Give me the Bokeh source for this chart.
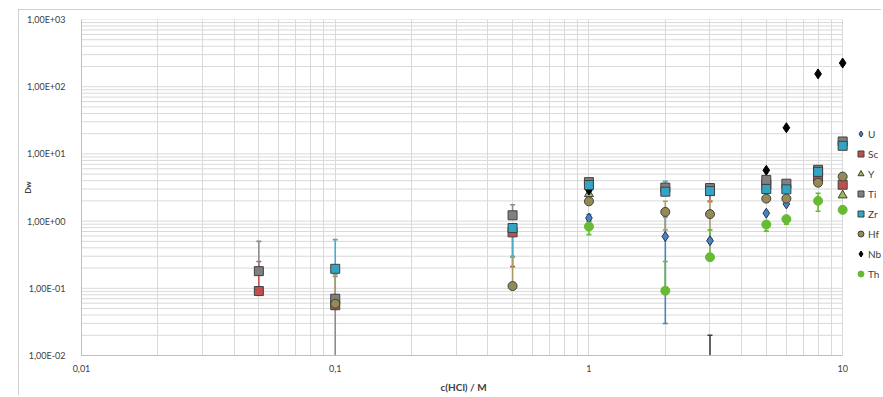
import math
import numpy as np
from bokeh.plotting import figure
from bokeh.models import (Range1d, FixedTicker, CustomJSTickFormatter, Legend,
                          LegendItem, Title)
from bokeh.embed import file_html
from bokeh.resources import INLINE

nan = float("nan")

# ---------------- data ----------------
c_hcl = [0.05, 0.1, 0.5, 1, 2, 3, 5, 6, 8, 10]

U_val  = [nan, nan, nan, 1.11, 0.59, 0.51, 1.31, 1.80, nan, nan]
U_lo   = [nan, nan, nan, 1.00, 0.030, nan, nan, nan, nan, nan]
U_hi   = [nan, nan, nan, 1.25, 1.15, nan, nan, nan, nan, nan]

Sc_val = [0.091, 0.056, 0.68, nan, nan, 2.8, 3.5, nan, 4.47, 3.48]
Sc_lo  = [nan, nan, 0.21, nan, nan, 1.95, nan, nan, nan, nan]
Sc_hi  = [0.25, nan, nan, nan, nan, 3.6, nan, nan, nan, nan]

Y_val  = [nan, nan, nan, 2.53, nan, nan, nan, nan, nan, 2.42]
Y_lo   = [nan] * 10
Y_hi   = [nan] * 10

Ti_val = [0.18, 0.07, 1.22, 3.8, 3.15, 3.1, 4.1, 3.6, 5.8, 15.3]
Ti_lo  = [nan, 0.001, nan, nan, nan, nan, nan, nan, nan, nan]
Ti_hi  = [0.5, 0.15, 1.75, nan, nan, nan, nan, nan, nan, nan]

Zr_val = [nan, 0.195, 0.79, 3.44, 2.74, 2.8, 3.0, 2.97, 5.4, 13.2]
Zr_lo  = [nan, nan, 0.30, nan, nan, nan, nan, nan, nan, nan]
Zr_hi  = [nan, 0.53, nan, nan, 3.9, nan, nan, nan, nan, nan]

Hf_val = [nan, 0.059, 0.108, 1.97, 1.37, 1.27, 2.16, 2.16, 3.73, 4.6]
Hf_lo  = [nan, nan, nan, nan, 0.74, 0.55, nan, nan, nan, nan]
Hf_hi  = [nan, 0.16, 0.29, nan, 1.97, 2.0, nan, nan, nan, nan]

Nb_val = [nan, nan, nan, 2.9, nan, 0.005, 5.7, 24.5, 155, 225]
Nb_lo  = [nan] * 10
Nb_hi  = [nan, nan, nan, nan, nan, 0.02, nan, nan, nan, nan]

Th_val = [nan, nan, nan, 0.83, 0.092, 0.29, 0.89, 1.07, 2.0, 1.47]
Th_lo  = [nan, nan, nan, 0.63, nan, nan, 0.71, 0.90, 1.4, nan]
Th_hi  = [nan, nan, nan, nan, 0.25, 0.74, nan, nan, 2.6, nan]

series_names = ["U", "Sc", "Y", "Ti", "Zr", "Hf", "Nb", "Th"]
draw_order = ["U", "Sc", "Y", "Nb", "Ti", "Zr", "Hf", "Th"]

X_MIN, X_MAX = 0.01, 10
Y_MIN, Y_MAX = 0.01, 1000

# ---------------- styles ----------------
styles = {
    "U":  dict(marker="diamond", size=10, fill="#4F81BD", line="#1F3864", err="#4F81BD", vals=(U_val, U_lo, U_hi)),
    "Sc": dict(marker="square", size=9, fill="#C0504D", line="#404040", err="#C0504D", vals=(Sc_val, Sc_lo, Sc_hi)),
    "Y":  dict(marker="triangle", size=9, fill="#9BBB59", line="#404040", err="#9BBB59", vals=(Y_val, Y_lo, Y_hi)),
    "Ti": dict(marker="square", size=9, fill="#808080", line="#404040", err="#8C8C8C", vals=(Ti_val, Ti_lo, Ti_hi)),
    "Zr": dict(marker="square", size=9, fill="#31A6C4", line="#404040", err="#4BACC6", vals=(Zr_val, Zr_lo, Zr_hi)),
    "Hf": dict(marker="circle", size=9, fill="#948A54", line="#404040", err="#A89C66", vals=(Hf_val, Hf_lo, Hf_hi)),
    "Nb": dict(marker="diamond", size=10, fill="#000000", line="#000000", err="#404040", vals=(Nb_val, Nb_lo, Nb_hi)),
    "Th": dict(marker="circle", size=9, fill="#66BB33", line="#66BB33", err="#66BB33", vals=(Th_val, Th_lo, Th_hi)),
}

FONT = "Lato"
TEXT = "#404040"

# The frame is widened up to the page edge so that the legend (drawn inside the frame)
# shows at the right; grid lines and the x axis stop at X_MAX.
p = figure(width=863, height=386, x_axis_type="log", y_axis_type="log",
           x_range=Range1d(X_MIN, 10 ** 1.157), y_range=Range1d(Y_MIN, Y_MAX),
           output_backend="svg", toolbar_location=None,
           min_border_left=59, min_border_right=0, min_border_top=9, min_border_bottom=39)
p.margin = (9, 0, 0, 18)
p.styles = {"border-left": "1px solid #d0d0d0", "border-top": "1px solid #d0d0d0"}
p.outline_line_color = None
p.background_fill_color = "white"
p.border_fill_color = "white"

# ticks
x_major = [10.0 ** k for k in range(-2, 2)]
x_minor = [m * 10.0 ** k for k in range(-2, 1) for m in range(2, 10)]
y_major = [10.0 ** k for k in range(-2, 4)]
y_minor = [m * 10.0 ** k for k in range(-2, 3) for m in range(2, 10)]

xt = FixedTicker(ticks=x_major, minor_ticks=x_minor)
yt = FixedTicker(ticks=y_major, minor_ticks=y_minor)
p.xaxis.ticker = xt
p.yaxis.ticker = yt
p.xgrid.ticker = xt

GRID = "#d9d9d9"
p.xgrid.grid_line_color = GRID
p.xgrid.minor_grid_line_color = GRID
p.ygrid.visible = False
# horizontal grid lines limited to the axis span
ys = y_major + y_minor
p.segment(x0=[X_MIN] * len(ys), x1=[X_MAX] * len(ys), y0=ys, y1=ys,
          line_color=GRID, line_width=1, level="underlay")

p.xaxis.formatter = CustomJSTickFormatter(code="return tick.toString().replace('.', ',');")
p.yaxis.formatter = CustomJSTickFormatter(code="""
const e = Math.round(Math.log10(tick));
const m = tick / Math.pow(10, e);
const a = Math.abs(e);
return m.toFixed(2).replace('.', ',') + 'E' + (e < 0 ? '-' : '+') + (a < 10 ? '0' : '') + a;
""")
for ax in (p.xaxis, p.yaxis):
    ax.major_tick_line_color = None
    ax.minor_tick_line_color = None
    ax.axis_line_color = "#bfbfbf"
    ax.major_label_text_font = FONT
    ax.major_label_text_font_size = "9px"
    ax.major_label_text_color = TEXT
p.xaxis.bounds = (X_MIN, X_MAX)
p.xaxis.major_label_standoff = 3

p.yaxis.major_label_standoff = 10
p.yaxis.axis_label = "Dw"
p.yaxis.axis_label_text_font = FONT
p.yaxis.axis_label_text_font_style = "bold"
p.yaxis.axis_label_text_font_size = "8px"
p.yaxis.axis_label_text_color = TEXT
p.yaxis.axis_label_standoff = -9

# x axis title, centred under the 0.01..10 span
p.add_layout(Title(text="c(HCl) / M", align="left", offset=359, standoff=8,
                   text_font=FONT, text_font_style="bold", text_font_size="10px",
                   text_color=TEXT), "below")

# error bars first
for name in series_names:
    st = styles[name]
    val, lo, hi = st["vals"]
    x0, y0, y1, cx, cy = [], [], [], [], []
    for xv, v, l, h in zip(c_hcl, val, lo, hi):
        if not math.isnan(h):
            x0.append(xv); y0.append(v); y1.append(h); cx.append(xv); cy.append(h)
        if not math.isnan(l):
            x0.append(xv); y0.append(l); y1.append(v); cx.append(xv); cy.append(l)
    if x0:
        p.segment(x0=x0, x1=x0, y0=y0, y1=y1, line_color=st["err"], line_width=1.6)
        p.scatter(x=cx, y=cy, marker="dash", size=5, line_color=st["err"], line_width=1.6)

# markers
rend = {}
for name in draw_order:
    st = styles[name]
    val = st["vals"][0]
    rend[name] = p.scatter(x=c_hcl, y=val, marker=st["marker"], size=st["size"],
                           fill_color=st["fill"], line_color=st["line"], line_width=1)
items = [LegendItem(label=n, renderers=[rend[n]]) for n in series_names]

legend = Legend(items=items, location=(772, 74), padding=0, margin=0,
                spacing=5, glyph_width=15, glyph_height=15, label_height=15,
                label_standoff=0, border_line_color=None, background_fill_alpha=0,
                label_text_font=FONT, label_text_font_size="10px",
                label_text_color=TEXT)
p.add_layout(legend)

open("out.html", "w").write(file_html(p, INLINE))
